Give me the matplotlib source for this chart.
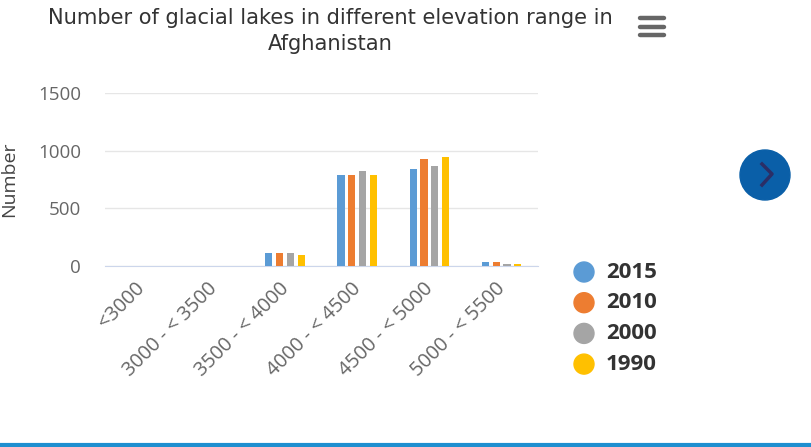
import matplotlib.pyplot as plt
import matplotlib.transforms as mtransforms
import numpy as np
from matplotlib.patches import Circle

plt.rcParams['font.family'] = ['Open Sans', 'DejaVu Sans']

categories = ['<3000', '3000 - < 3500', '3500 - < 4000', '4000 - < 4500',
              '4500 - < 5000', '5000 - < 5500']
years = ['2015', '2010', '2000', '1990']
lakes_2015 = [0, 0, 113, 787, 841, 32]
lakes_2010 = [0, 0, 112, 787, 925, 32]
lakes_2000 = [0, 0, 110, 824, 870, 20]
lakes_1990 = [0, 0, 96, 787, 945, 17]
series = [lakes_2015, lakes_2010, lakes_2000, lakes_1990]
colors = ['#5b9bd5', '#ed7d31', '#a5a5a5', '#ffc000']

H = 447
fig = plt.figure(figsize=(8.11, 4.47), dpi=100)
ax = fig.add_axes([0.129, 0.405, 0.534, 0.387])
px = fig.dpi_scale_trans  # inches; 1 px = 0.01 in


def P(xp, yp):
    return (xp / 100, (H - yp) / 100)


x = np.arange(len(categories))
w = 0.1
step = 0.15
for i, (vals, c) in enumerate(zip(series, colors)):
    ax.bar(x + (i - 1.5) * step, vals, width=w, color=c, zorder=3)

ax.set_xlim(-0.5, len(categories) - 0.5)
ax.set_ylim(0, 1500)
ax.set_yticks([0, 500, 1000, 1500])
ax.grid(axis='y', color='#e6e6e6', linewidth=1, zorder=0)
for s in ['top', 'right', 'left']:
    ax.spines[s].set_visible(False)
ax.spines['bottom'].set_color('#ccd6eb')
ax.tick_params(axis='y', length=0, labelsize=13.5, labelcolor='#666666', pad=17)
ax.tick_params(axis='x', length=0, labelsize=14.3, labelcolor='#666666', pad=9)
ax.set_xticks(x)
ax.set_xticklabels(categories, rotation=45, ha='right', rotation_mode='anchor')
shift = mtransforms.ScaledTranslation(-0.06, 0, fig.dpi_scale_trans)
for lab in ax.get_xticklabels():
    lab.set_transform(lab.get_transform() + shift)
ax.set_ylabel('Number', fontsize=14, color='#444444')
ax.yaxis.set_label_coords(-0.2, 0.5)

fig.text(330 / 811, 0.982, 'Number of glacial lakes in different elevation range in\nAfghanistan',
         ha='center', va='top', fontsize=15.1, color='#333333', linespacing=1.4,
         family='DejaVu Sans')

# menu icon
for yy in [18, 27, 35]:
    fig.add_artist(plt.Line2D([640 / 100, 664 / 100], [(H - yy) / 100] * 2, transform=px,
                              color='#666666', lw=3.2, solid_capstyle='round'))

# navigation button
fig.add_artist(Circle(P(765, 175), 0.25, transform=px, color='#0a5fa8'))
xs, ys = zip(P(762, 164), P(772, 174), P(762, 185))
fig.add_artist(plt.Line2D(xs, ys, transform=px, color='#2b2e66', lw=2.5))

# legend
for i, (yr, c) in enumerate(zip(years, colors)):
    yp = 272 + i * 30.7
    fig.add_artist(Circle(P(584, yp), 0.10, transform=px, color=c))
    fig.text(606 / 811, 1 - yp / H, yr, ha='left', va='center', fontsize=16,
             fontweight='bold', color='#333333')

fig.add_artist(plt.Line2D([0, 1], [0.005, 0.005], color='#1e8fd0', lw=3))

fig.savefig('out.png', dpi=100)
